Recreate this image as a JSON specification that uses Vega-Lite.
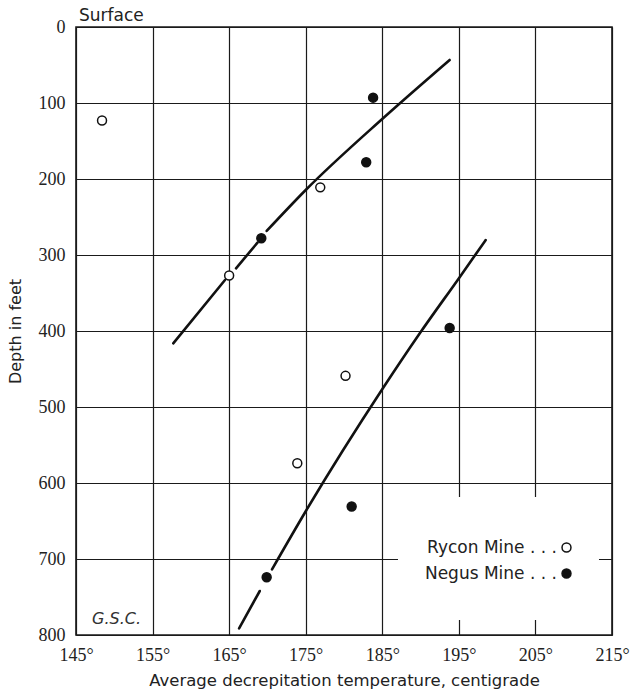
{
  "$schema": "https://vega.github.io/schema/vega-lite/v6.json",
  "width": 536,
  "height": 608,
  "autosize": {"type": "none"},
  "padding": {"left": 76, "top": 27, "right": 22, "bottom": 62},
  "background": "white",
  "config": {
    "view": {"stroke": "#1a1a1a", "strokeWidth": 1.6},
    "legend": {
      "orient": "none",
      "legendX": 482,
      "legendY": 512,
      "direction": "vertical",
      "labelAlign": "right",
      "labelOffset": -18,
      "labelFont": "DejaVu Sans",
      "labelFontSize": 17,
      "labelColor": "#222",
      "labelLimit": 300,
      "symbolType": "circle",
      "symbolSize": 80,
      "symbolStrokeColor": "#111",
      "symbolStrokeWidth": 1.5,
      "rowPadding": 8,
      "padding": 0
    }
  },
  "title": {
    "text": "Surface",
    "anchor": "start",
    "frame": "group",
    "orient": "top",
    "font": "DejaVu Sans",
    "fontSize": 17,
    "fontWeight": "normal",
    "color": "#222",
    "baseline": "alphabetic",
    "offset": -20,
    "dx": 3
  },
  "datasets": {
    "points": [
      {"mine": "Rycon Mine", "temp": 148.4, "depth": 123},
      {"mine": "Rycon Mine", "temp": 176.9, "depth": 211},
      {"mine": "Rycon Mine", "temp": 165.0, "depth": 327},
      {"mine": "Rycon Mine", "temp": 180.2, "depth": 459},
      {"mine": "Rycon Mine", "temp": 173.9, "depth": 574},
      {"mine": "Negus Mine", "temp": 183.8, "depth": 93},
      {"mine": "Negus Mine", "temp": 182.9, "depth": 178},
      {"mine": "Negus Mine", "temp": 169.2, "depth": 278},
      {"mine": "Negus Mine", "temp": 193.8, "depth": 396},
      {"mine": "Negus Mine", "temp": 181.0, "depth": 631},
      {"mine": "Negus Mine", "temp": 169.9, "depth": 724}
    ],
    "curves": [
      {"seg": "1a", "temp": 157.7, "depth": 416.2},
      {"seg": "1a", "temp": 164.46, "depth": 332.9},
      {"seg": "1b", "temp": 165.9, "depth": 317.5},
      {"seg": "1b", "temp": 168.7, "depth": 283.8},
      {"seg": "1c", "temp": 169.9, "depth": 268.4},
      {"seg": "1c", "temp": 175.0, "depth": 214.5},
      {"seg": "1c", "temp": 185.1, "depth": 120.1},
      {"seg": "1c", "temp": 193.8, "depth": 43.4},
      {"seg": "2a", "temp": 166.3, "depth": 791.2},
      {"seg": "2a", "temp": 169.0, "depth": 742.1},
      {"seg": "2b", "temp": 170.6, "depth": 713.6},
      {"seg": "2b", "temp": 175.1, "depth": 635.5},
      {"seg": "2b", "temp": 185.1, "depth": 475},
      {"seg": "2b", "temp": 189.9, "depth": 403},
      {"seg": "2b", "temp": 195.15, "depth": 328.5},
      {"seg": "2b", "temp": 198.5, "depth": 280.3}
    ]
  },
  "layer": [
    {
      "data": {"name": "points"},
      "mark": {"type": "point", "opacity": 0},
      "encoding": {
        "x": {
          "field": "temp",
          "type": "quantitative",
          "title": "Average decrepitation temperature, centigrade",
          "scale": {"domain": [145, 215], "nice": false, "zero": false},
          "axis": {
            "values": [145, 155, 165, 175, 185, 195, 205, 215],
            "labelExpr": "datum.value + '°'",
            "labelFont": "Liberation Sans Narrow",
            "labelFontSize": 18,
            "labelColor": "#222",
            "labelPadding": 11,
            "labelDx": 4,
            "labelFlush": false,
            "labelOverlap": false,
            "ticks": false,
            "tickSize": 0,
            "domain": false,
            "grid": true,
            "gridColor": "#1a1a1a",
            "gridWidth": 1.2,
            "gridOpacity": 1,
            "titleFont": "DejaVu Sans",
            "titleFontSize": 16.5,
            "titleFontWeight": "normal",
            "titleColor": "#222",
            "titlePadding": 8
          }
        },
        "y": {
          "field": "depth",
          "type": "quantitative",
          "title": "Depth in feet",
          "scale": {"domain": [0, 800], "nice": false, "zero": false, "reverse": true},
          "axis": {
            "values": [0, 100, 200, 300, 400, 500, 600, 700, 800],
            "labelFont": "Liberation Sans Narrow",
            "labelFontSize": 18,
            "labelColor": "#222",
            "labelPadding": 11,
            "labelFlush": false,
            "labelOverlap": false,
            "ticks": false,
            "tickSize": 0,
            "domain": false,
            "grid": true,
            "gridColor": "#1a1a1a",
            "gridWidth": 1.2,
            "gridOpacity": 1,
            "titleFont": "DejaVu Sans",
            "titleFontSize": 16,
            "titleFontWeight": "normal",
            "titleColor": "#222",
            "titlePadding": 15
          }
        }
      }
    },
    {
      "data": {"values": [{}]},
      "mark": {"type": "rect", "fill": "white", "strokeWidth": 0},
      "encoding": {
        "x": {"datum": 187.05, "type": "quantitative", "title": "Average decrepitation temperature, centigrade"},
        "x2": {"datum": 213.3},
        "y": {"datum": 618.4, "type": "quantitative", "title": "Depth in feet"},
        "y2": {"datum": 780.3}
      }
    },
    {
      "data": {"name": "curves"},
      "mark": {"type": "line", "color": "#111", "strokeWidth": 2.6, "interpolate": "monotone", "strokeCap": "round"},
      "encoding": {
        "x": {"field": "temp", "type": "quantitative", "title": "Average decrepitation temperature, centigrade"},
        "y": {"field": "depth", "type": "quantitative", "title": "Depth in feet"},
        "detail": {"field": "seg", "type": "nominal"}
      }
    },
    {
      "data": {"name": "points"},
      "mark": {"type": "point", "shape": "circle", "filled": true, "stroke": "#111", "strokeWidth": 1.5, "size": 80, "opacity": 1},
      "encoding": {
        "x": {"field": "temp", "type": "quantitative", "title": "Average decrepitation temperature, centigrade"},
        "y": {"field": "depth", "type": "quantitative", "title": "Depth in feet"},
        "fill": {
          "field": "mine",
          "type": "nominal",
          "scale": {"domain": ["Rycon Mine", "Negus Mine"], "range": ["white", "#111"]},
          "legend": {"title": null, "labelExpr": "datum.label + ' . . .'"}
        }
      }
    },
    {
      "data": {"values": [{}]},
      "mark": {"type": "text", "text": "G.S.C.", "align": "left", "baseline": "alphabetic", "font": "DejaVu Sans", "fontStyle": "italic", "fontSize": 16, "color": "#333"},
      "encoding": {
        "x": {"datum": 147.1, "type": "quantitative", "title": "Average decrepitation temperature, centigrade"},
        "y": {"datum": 785.5, "type": "quantitative", "title": "Depth in feet"}
      }
    }
  ]
}
